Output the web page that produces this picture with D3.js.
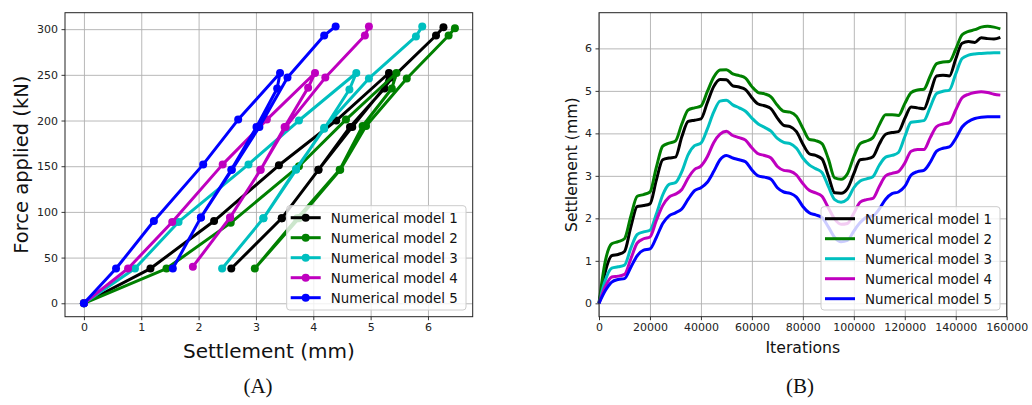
<!DOCTYPE html>
<html><head><meta charset="utf-8">
<script src="https://cdn.jsdelivr.net/npm/d3@7"></script>
<style>
body{margin:0;background:#fff;}
svg text{font-family:"DejaVu Sans",sans-serif;}
</style></head>
<body><svg id="c" width="1032" height="405"></svg>
<script>
// ---------- DATA ----------
const modelNames = ["Numerical model 1","Numerical model 2","Numerical model 3","Numerical model 4","Numerical model 5"];
const modelColors = ["#000000","#008000","#00bfbf","#bf00bf","#0000ff"];

// (A) Force applied (kN) vs settlement (mm): load, unload, reload
const forceM1  = [0,38,90,151,200,252,235,193,146,93,38,93,146,193,247,293,302];
const settleM1 = [0,1.16,2.27,3.40,4.40,5.32,5.24,4.64,4.09,3.45,2.57,3.45,4.09,4.68,5.38,6.14,6.27];
const forceM2  = [0,38,88,150,201,252,235,194,146,93,38,93,146,194,246,293,301];
const settleM2 = [0,1.44,2.56,3.75,4.57,5.45,5.37,4.86,4.46,3.72,2.98,3.75,4.47,4.92,5.63,6.36,6.47];
const forceM3  = [0,38,89,152,200,252,234,191,147,93,38,93,146,192,246,292,303];
const settleM3 = [0,0.89,1.65,2.87,3.75,4.75,4.63,4.19,3.70,3.13,2.41,3.13,3.70,4.19,4.97,5.79,5.90];
const forceM4  = [0,38,89,152,201,252,236,193,146,94,40,94,146,193,247,293,303];
const settleM4 = [0,0.77,1.54,2.42,3.19,4.03,3.91,3.50,3.08,2.55,1.90,2.55,3.08,3.52,4.21,4.90,4.97];
const forceM5  = [0,38,90,152,201,252,235,193,146,94,38,94,146,193,247,293,303];
const settleM5 = [0,0.56,1.22,2.08,2.69,3.42,3.37,3.01,2.57,2.04,1.55,2.04,2.58,3.06,3.55,4.19,4.39];

// (B) Settlement (mm) vs iterations
const iterations = [0,2500,5000,7500,10000,12500,15000,17500,20000,22500,25000,27500,30000,32500,35000,37500,
 40000,42500,45000,47500,50000,52500,55000,57500,60000,62500,65000,67500,70000,72500,75000,77500,
 80000,82500,85000,87500,90000,92500,95000,97500,100000,102500,105000,107500,110000,112500,115000,117500,
 120000,122500,125000,127500,130000,132500,135000,137500,140000,142500,145000,147500,150000,152500,155000,157500];
const iterM1 = [0,0.75,1.12,1.15,1.22,1.80,2.28,2.30,2.34,2.90,3.38,3.42,3.44,3.92,4.28,4.31,
 4.34,4.72,5.10,5.27,5.26,5.12,5.09,5.03,4.84,4.69,4.65,4.58,4.36,4.19,4.16,4.04,
 3.75,3.52,3.48,3.40,3.00,2.60,2.59,2.70,3.05,3.38,3.40,3.45,3.75,3.98,4.02,4.04,
 4.35,4.62,4.60,4.58,4.95,5.35,5.37,5.35,5.75,6.12,6.16,6.14,6.25,6.23,6.22,6.26];
const iterM2 = [0,1.00,1.40,1.45,1.52,2.05,2.52,2.56,2.62,3.20,3.70,3.77,3.82,4.22,4.55,4.60,
 4.64,4.98,5.32,5.49,5.50,5.40,5.36,5.30,5.10,4.96,4.93,4.86,4.66,4.52,4.50,4.40,
 4.12,3.86,3.83,3.76,3.40,2.95,2.92,3.05,3.45,3.76,3.82,3.90,4.20,4.44,4.44,4.42,
 4.70,4.96,5.02,5.04,5.35,5.64,5.68,5.69,5.98,6.32,6.40,6.44,6.50,6.52,6.50,6.46];
const iterM3 = [0,0.55,0.83,0.86,0.90,1.30,1.62,1.68,1.72,2.10,2.55,2.80,2.84,3.10,3.50,3.71,
 3.77,4.10,4.50,4.76,4.78,4.67,4.60,4.52,4.36,4.22,4.14,4.05,3.88,3.79,3.76,3.65,
 3.42,3.26,3.17,3.08,2.75,2.44,2.38,2.45,2.72,2.88,2.93,2.98,3.25,3.44,3.48,3.55,
 3.92,4.26,4.28,4.30,4.62,4.94,4.99,5.02,5.40,5.76,5.84,5.87,5.88,5.89,5.90,5.90];
const iterM4 = [0,0.40,0.62,0.64,0.68,1.05,1.42,1.52,1.56,1.95,2.30,2.50,2.57,2.68,2.95,3.15,
 3.23,3.45,3.78,3.98,4.05,3.95,3.90,3.84,3.66,3.52,3.48,3.42,3.22,3.13,3.11,3.02,
 2.82,2.66,2.60,2.52,2.25,1.98,1.86,1.88,2.12,2.38,2.44,2.47,2.75,3.00,3.06,3.10,
 3.30,3.58,3.62,3.62,3.90,4.16,4.22,4.25,4.55,4.84,4.92,4.96,4.98,4.96,4.92,4.90];
const iterM5 = [0,0.30,0.50,0.56,0.58,0.85,1.12,1.25,1.28,1.55,1.88,2.06,2.13,2.22,2.45,2.65,
 2.72,2.85,3.10,3.38,3.48,3.42,3.38,3.33,3.14,3.00,2.97,2.92,2.72,2.62,2.59,2.50,
 2.28,2.13,2.08,2.02,1.80,1.55,1.45,1.48,1.70,1.90,2.03,2.06,2.22,2.45,2.58,2.62,
 2.75,3.02,3.10,3.13,3.32,3.58,3.65,3.68,3.88,4.15,4.28,4.35,4.38,4.39,4.39,4.39];

const ticksAx = [0,1,2,3,4,5,6];
const ticksAy = [0,50,100,150,200,250,300];
const ticksBx = [0,20000,40000,60000,80000,100000,120000,140000,160000];
const ticksBy = [0,1,2,3,4,5,6];

// ---------- DRAW ----------
const svg = d3.select("#c");
const A = {x0:65, x1:472.7, y0:12.7, y1:316.7};
const B = {x0:599, x1:1006.7, y0:12.7, y1:316.7};

const xA = d3.scaleLinear([-0.33, 6.78], [A.x0, A.x1]);
const yA = d3.scaleLinear([-14.7, 318], [A.y1, A.y0]);
const xB = d3.scaleLinear([0, 160000], [B.x0, B.x1]);
const yB = d3.scaleLinear([-0.315, 6.84], [B.y1, B.y0]);

function frame(P, xs, ys, xt, yt) {
  const g = svg.append("g");
  // grid
  g.append("g").attr("transform", `translate(0,${P.y1})`)
    .call(d3.axisBottom(xs).tickValues(xt).tickSize(-(P.y1-P.y0)).tickFormat(""))
    .call(s => s.select(".domain").remove())
    .call(s => s.selectAll("line").attr("stroke","#b0b0b0").attr("stroke-width",0.9));
  g.append("g").attr("transform", `translate(${P.x0},0)`)
    .call(d3.axisLeft(ys).tickValues(yt).tickSize(-(P.x1-P.x0)).tickFormat(""))
    .call(s => s.select(".domain").remove())
    .call(s => s.selectAll("line").attr("stroke","#b0b0b0").attr("stroke-width",0.9));
  return g;
}
function axes(P, xs, ys, xt, yt) {
  const g = svg.append("g");
  const ax = g.append("g").attr("transform", `translate(0,${P.y1})`)
    .call(d3.axisBottom(xs).tickValues(xt).tickSize(3.5).tickPadding(3.5).tickFormat(d3.format("d")));
  const ay = g.append("g").attr("transform", `translate(${P.x0},0)`)
    .call(d3.axisLeft(ys).tickValues(yt).tickSize(3.5).tickPadding(3.5).tickFormat(d3.format("d")));
  [ax, ay].forEach(a => {
    a.select(".domain").remove();
    a.selectAll("line").attr("stroke","#222").attr("stroke-width",0.9);
    a.selectAll("text").attr("fill","#222").style("font-size","11px").style("font-family","DejaVu Sans");
  });
  g.append("rect").attr("x",P.x0).attr("y",P.y0).attr("width",P.x1-P.x0).attr("height",P.y1-P.y0)
    .attr("fill","none").attr("stroke","#222").attr("stroke-width",1);
}
function legend(x, y, w, h, withMarker) {
  const g = svg.append("g");
  g.append("rect").attr("x",x).attr("y",y).attr("width",w).attr("height",h).attr("rx",3)
    .attr("fill","#fff").attr("fill-opacity",0.8).attr("stroke","#cccccc").attr("stroke-width",1);
  modelNames.forEach((n,i) => {
    const cy = y + 12 + i*20;
    g.append("line").attr("x1",x+4).attr("x2",x+34).attr("y1",cy).attr("y2",cy)
      .attr("stroke",modelColors[i]).attr("stroke-width",3);
    if (withMarker) g.append("circle").attr("cx",x+19).attr("cy",cy).attr("r",4).attr("fill",modelColors[i]);
    g.append("text").attr("x",x+44).attr("y",cy).attr("dy","0.36em").attr("fill","#111")
      .style("font-size","13.4px").text(n);
  });
}

// ---- (A) ----
frame(A, xA, yA, ticksAx, ticksAy);
const seriesA = [[settleM1,forceM1],[settleM2,forceM2],[settleM3,forceM3],[settleM4,forceM4],[settleM5,forceM5]];
const lineA = d3.line().x(d => xA(d[0])).y(d => yA(d[1]));
seriesA.forEach((s,i) => {
  const pts = s[0].map((v,j) => [v, s[1][j]]);
  svg.append("path").datum(pts).attr("d", lineA).attr("fill","none")
    .attr("stroke", modelColors[i]).attr("stroke-width",3).attr("stroke-linejoin","round");
  svg.append("g").selectAll("circle").data(pts).join("circle")
    .attr("cx", d => xA(d[0])).attr("cy", d => yA(d[1])).attr("r",4).attr("fill",modelColors[i]);
});
axes(A, xA, yA, ticksAx, ticksAy);
legend(286.7, 205.7, 179.3, 104.3, true);
svg.append("text").attr("x",(A.x0+A.x1)/2).attr("y",351).attr("dy","0.36em").attr("text-anchor","middle")
  .style("font-size","20px").attr("fill","#111").text("Settlement (mm)");
svg.append("text").attr("transform",`translate(21,${(A.y0+A.y1)/2}) rotate(-90)`).attr("dy","0.36em")
  .attr("text-anchor","middle").style("font-size","19.5px").attr("fill","#111").text("Force applied (kN)");

// ---- (B) ----
frame(B, xB, yB, ticksBx, ticksBy);
const seriesB = [iterM1, iterM2, iterM3, iterM4, iterM5];
const lineB = d3.line().x(d => xB(d[0])).y(d => yB(d[1])).curve(d3.curveMonotoneX);
seriesB.forEach((s,i) => {
  const pts = iterations.map((it,j) => [it, s[j]]);
  svg.append("path").datum(pts).attr("d", lineB).attr("fill","none")
    .attr("stroke", modelColors[i]).attr("stroke-width",3).attr("stroke-linejoin","round");
});
axes(B, xB, yB, ticksBx, ticksBy);
legend(821, 206.7, 179, 103.3, false);
svg.append("text").attr("x",(B.x0+B.x1)/2).attr("y",347).attr("dy","0.36em").attr("text-anchor","middle")
  .style("font-size","15.7px").attr("fill","#111").text("Iterations");
svg.append("text").attr("transform",`translate(571,${(B.y0+B.y1)/2}) rotate(-90)`).attr("dy","0.36em")
  .attr("text-anchor","middle").style("font-size","15.7px").attr("fill","#111").text("Settlement (mm)");

// captions
svg.append("text").attr("x",258).attr("y",386).attr("dy","0.35em").attr("text-anchor","middle")
  .style("font-family","'Liberation Serif',serif").style("font-size","21px").attr("fill","#111").text("(A)");
svg.append("text").attr("x",800).attr("y",386).attr("dy","0.35em").attr("text-anchor","middle")
  .style("font-family","'Liberation Serif',serif").style("font-size","21px").attr("fill","#111").text("(B)");
</script></body></html>
